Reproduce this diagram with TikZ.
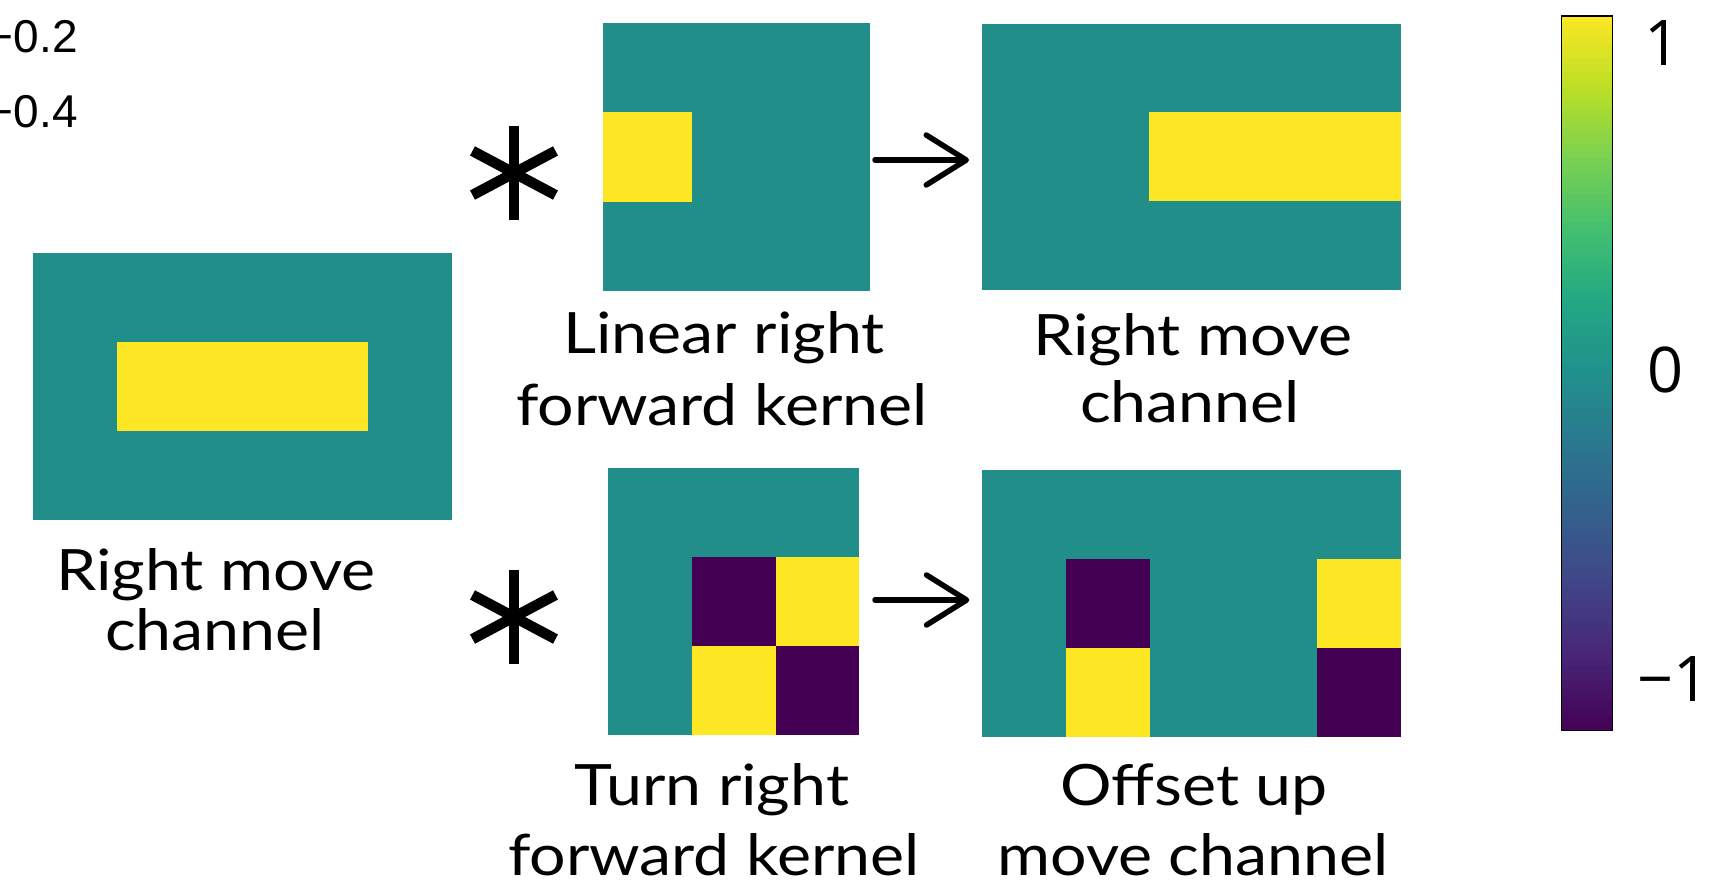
\documentclass[tikz,border=0pt]{standalone}
\usepackage{fontspec}
\setmainfont[FakeStretch=1.13]{Lato}
\newfontfamily\tickfont{Liberation Sans}
\newfontfamily\cbarfont{Open Sans}
\usetikzlibrary{arrows.meta,calc}

% viridis colour map, eleven evenly spaced stops
\definecolor{vir0}{HTML}{440154}
\definecolor{vir1}{HTML}{482475}
\definecolor{vir2}{HTML}{414487}
\definecolor{vir3}{HTML}{355F8D}
\definecolor{vir4}{HTML}{2A788E}
\definecolor{vir5}{HTML}{21918C}
\definecolor{vir6}{HTML}{22A884}
\definecolor{vir7}{HTML}{44BF70}
\definecolor{vir8}{HTML}{7AD151}
\definecolor{vir9}{HTML}{BDDF26}
\definecolor{vir10}{HTML}{FDE725}
\definecolor{czero}{HTML}{228E89}
\colorlet{cpos}{vir10}
\colorlet{cneg}{vir0}

\tikzset{
  cellgrid/.style={fill=czero, inner sep=0pt, outer sep=0pt, anchor=north west},
  lbl/.style={font=\fontsize{57}{57}\selectfont, anchor=base, inner sep=0pt},
  ticklbl/.style={font=\tickfont\fontsize{46}{46}\selectfont, anchor=east, inner sep=0pt},
  cbarlbl/.style={font=\cbarfont\fontsize{63}{63}\selectfont, inner sep=0pt},
  flow/.style={line width=5.5pt, line cap=round,
    -{Straight Barb[length=40pt,width=50pt,round]}},
  astarm/.style={line width=10.5pt},
}

% one coloured cell block of a grid: node, column, row, cell width, cell height, colour
\newcommand\paintcells[8]{%
  \fill[#8] ($(#1.north west)+({#2*#4},{#3*#5})$) rectangle ++({#6*#4},{#7*#5});}

\begin{document}
\begin{tikzpicture}[x=1pt,y=-1pt]
\useasboundingbox (0,0) rectangle (1715,881);

% clipped tick labels at the top left corner
\node[ticklbl] (tA) at (78,37) {−0.2};
\node[ticklbl] (tB) at (78,112) {−0.4};

% input channel
\node[cellgrid, minimum width=419pt, minimum height=267pt] (g0) at (33,253) {};
\paintcells{g0}{1}{1}{83.8}{89}{3}{1}{cpos}
\node[lbl] (g0a) at (216,590) {Right move};
\node[lbl] (g0b) at (215,650) {channel};

% upper branch: linear kernel and its result
\node[cellgrid, minimum width=267pt, minimum height=268pt] (k1) at (603,23) {};
\paintcells{k1}{0}{1}{89}{89.33}{1}{1}{cpos}
\node[lbl] (k1a) at (724,353) {Linear right};
\node[lbl] (k1b) at (722,425) {forward kernel};

\node[cellgrid, minimum width=418.5pt, minimum height=266.5pt] (r1) at (982,23.5) {};
\paintcells{r1}{2}{1}{83.7}{88.83}{3}{1}{cpos}
\node[lbl] (r1a) at (1193,355) {Right move};
\node[lbl] (r1b) at (1190,422) {channel};

% lower branch: turning kernel and its result
\node[cellgrid, minimum width=251.1pt, minimum height=267pt] (k2) at (608.3,468.3) {};
\paintcells{k2}{1}{1}{83.7}{89}{1}{1}{cneg}
\paintcells{k2}{2}{1}{83.7}{89}{1}{1}{cpos}
\paintcells{k2}{1}{2}{83.7}{89}{1}{1}{cpos}
\paintcells{k2}{2}{2}{83.7}{89}{1}{1}{cneg}
\node[lbl] (k2a) at (712,805) {Turn right};
\node[lbl] (k2b) at (714,875) {forward kernel};

\node[cellgrid, minimum width=418.4pt, minimum height=266.7pt] (r2) at (982.3,470) {};
\paintcells{r2}{1}{1}{83.68}{88.9}{1}{1}{cneg}
\paintcells{r2}{1}{2}{83.68}{88.9}{1}{1}{cpos}
\paintcells{r2}{4}{1}{83.68}{88.9}{1}{1}{cpos}
\paintcells{r2}{4}{2}{83.68}{88.9}{1}{1}{cneg}
\node[lbl] (r2a) at (1194,805) {Offset up};
\node[lbl] (r2b) at (1193,875) {move channel};

% convolution signs
\coordinate (ast1) at (514,173);
\coordinate (ast2) at (514,617);
\foreach \c in {ast1,ast2}
  \foreach \a in {90,28,-28}
    \draw[astarm] ($(\c)+(\a:47)$) -- ($(\c)+(\a+180:47)$);

% results of the convolutions
\draw[flow, shorten <=5pt, shorten >=13pt]
  ([yshift=-3pt]k1.east) -- ([yshift=-3pt]k1.east -| r1.west);
\draw[flow, shorten <=15.6pt, shorten >=13pt]
  ([yshift=1.8pt]k2.east) -- ([yshift=1.8pt]k2.east -| r2.west);

% colour bar
\foreach \i in {0,...,99}{
  \pgfmathtruncatemacro\k{(2*\i+1)/20}
  \pgfmathtruncatemacro\p{(2*\i+1)*5-100*\k}
  \pgfmathtruncatemacro\kk{\k+1}
  \fill[vir\kk!\p!vir\k] (1561,{730-(\i+1)*7.15-0.4}) rectangle (1611.5,{730-\i*7.15});
}
\node[draw, line width=1.2pt, inner sep=0pt, minimum width=50.5pt, minimum height=714.5pt,
  anchor=north west] (cbar) at (1561,15.3) {};
\node[cbarlbl] (cb1) at (1662,43.5) {1};
\node[cbarlbl] (cb0) at (1665,369.5) {0};
\node[cbarlbl, anchor=west] (cbm) at (1637,679) {−1};
\end{tikzpicture}
\end{document}
